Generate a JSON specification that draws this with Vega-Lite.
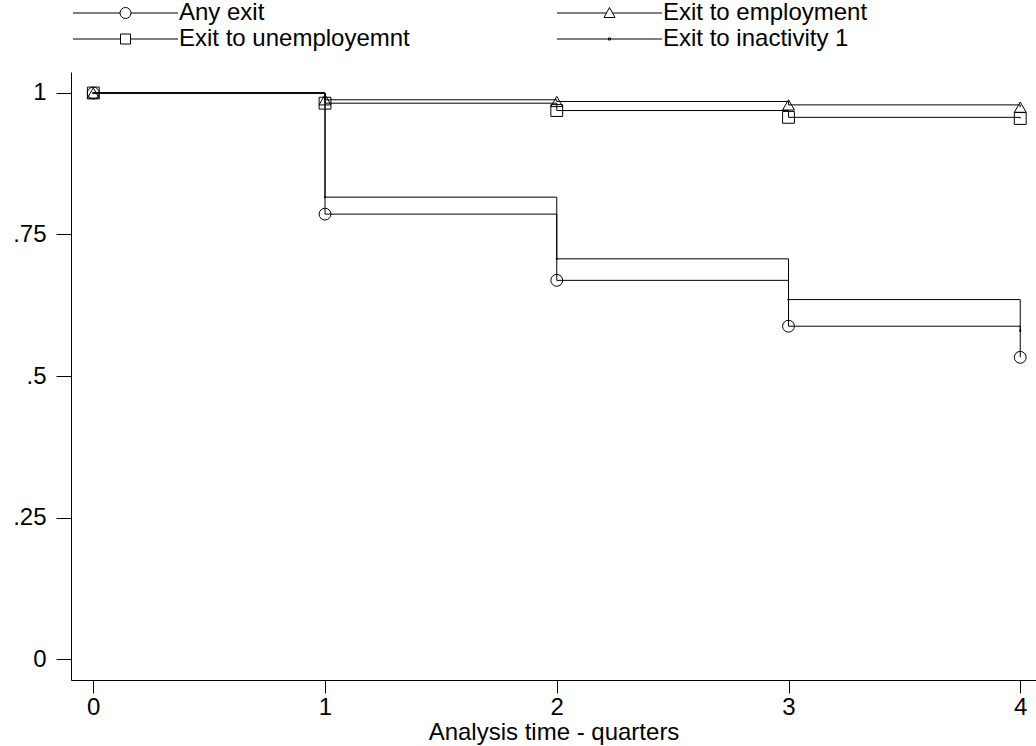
{
  "$schema": "https://vega.github.io/schema/vega-lite/v6.json",
  "autosize": "none",
  "width": 965,
  "height": 608,
  "padding": {"left": 71, "top": 72, "right": 0, "bottom": 66},
  "background": "white",
  "config": {
    "view": {"stroke": null},
    "font": "Liberation Sans",
    "axis": {
      "grid": false,
      "domainColor": "black",
      "domainWidth": 1,
      "tickColor": "black",
      "tickWidth": 1,
      "labelFont": "Liberation Sans",
      "labelFontSize": 24,
      "labelColor": "black",
      "titleFont": "Liberation Sans",
      "titleFontSize": 24,
      "titleFontWeight": "normal",
      "titleColor": "black"
    },
    "legend": {
      "orient": "top",
      "columns": 2,
      "gridAlign": "all",
      "columnPadding": 145,
      "labelFont": "Liberation Sans",
      "labelFontSize": 24,
      "labelColor": "black",
      "labelOffset": 84,
      "labelLimit": 500,
      "symbolSize": 400,
      "symbolStrokeColor": "black",
      "symbolStrokeWidth": 1,
      "symbolFillColor": "transparent",
      "symbolOpacity": 1,
      "padding": 0,
      "offset": 21
    }
  },
  "data": {
    "values": [
      {"series": "Any exit", "t": 0, "s": 1},
      {"series": "Any exit", "t": 1, "s": 0.786},
      {"series": "Any exit", "t": 2, "s": 0.669},
      {"series": "Any exit", "t": 3, "s": 0.588},
      {"series": "Any exit", "t": 4, "s": 0.533},
      {"series": "Exit to employment", "t": 0, "s": 1},
      {"series": "Exit to employment", "t": 1, "s": 0.988},
      {"series": "Exit to employment", "t": 2, "s": 0.985},
      {"series": "Exit to employment", "t": 3, "s": 0.979},
      {"series": "Exit to employment", "t": 4, "s": 0.975},
      {"series": "Exit to unemployemnt", "t": 0, "s": 1},
      {"series": "Exit to unemployemnt", "t": 1, "s": 0.982},
      {"series": "Exit to unemployemnt", "t": 2, "s": 0.969},
      {"series": "Exit to unemployemnt", "t": 3, "s": 0.957},
      {"series": "Exit to unemployemnt", "t": 4, "s": 0.955},
      {"series": "Exit to inactivity 1", "t": 0, "s": 1},
      {"series": "Exit to inactivity 1", "t": 1, "s": 0.816},
      {"series": "Exit to inactivity 1", "t": 2, "s": 0.707},
      {"series": "Exit to inactivity 1", "t": 3, "s": 0.635},
      {"series": "Exit to inactivity 1", "t": 4, "s": 0.58}
    ]
  },
  "encoding": {
    "x": {
      "field": "t",
      "type": "quantitative",
      "scale": {"domain": [-0.0962, 4.068], "nice": false, "zero": false},
      "axis": {
        "values": [0, 1, 2, 3, 4],
        "tickSize": 13,
        "labelPadding": 2,
        "title": "Analysis time - quarters",
        "titlePadding": 1,
        "labelFlush": false
      }
    },
    "y": {
      "field": "s",
      "type": "quantitative",
      "scale": {"domain": [-0.0371, 1.0371], "nice": false, "zero": false},
      "axis": {
        "values": [0, 0.25, 0.5, 0.75, 1],
        "tickSize": 15,
        "labelPadding": 10,
        "title": null,
        "labelFlush": false,
        "labelExpr": "datum.value == 0 ? '0' : datum.value == 1 ? '1' : replace(format(datum.value, '.2~f'), '0.', '.')"
      }
    }
  },
  "layer": [
    {
      "mark": {"type": "line", "interpolate": "step-after", "color": "black", "strokeWidth": 1},
      "encoding": {"detail": {"field": "series"}}
    },
    {
      "mark": {"type": "point", "filled": false, "stroke": "black", "strokeWidth": 1, "size": 140, "opacity": 1},
      "encoding": {
        "shape": {
          "field": "series",
          "type": "nominal",
          "scale": {
            "domain": ["Any exit", "Exit to employment", "Exit to unemployemnt", "Exit to inactivity 1"],
            "range": ["circle", "triangle-up", "square", "M-0.1,-0.1H0.1V0.1H-0.1Z"]
          },
          "legend": null
        }
      }
    },
    {
      "mark": {"type": "point", "filled": false, "opacity": 0, "stroke": "black"},
      "encoding": {
        "shape": {
          "field": "series",
          "type": "nominal",
          "scale": {
            "domain": ["Any exit", "Exit to employment", "Exit to unemployemnt", "Exit to inactivity 1"],
            "range": [
              "M-1,0H3.7M4.8,0H9.5M4.8,0A0.55,0.55,0,1,1,3.7,0A0.55,0.55,0,1,1,4.8,0",
              "M-1,0H3.95M4.55,0H9.5M4.25,-0.55L4.8,0.45L3.7,0.45Z",
              "M-1,0H3.75M4.75,0H9.5M3.75,-0.5H4.75V0.5H3.75Z",
              "M-1,0H9.5M4.15,-0.1H4.35V0.1H4.15Z"
            ]
          },
          "legend": {"title": null, "symbolOpacity": 1}
        }
      }
    }
  ],
  "resolve": {"scale": {"shape": "independent"}, "legend": {"shape": "independent"}}
}
